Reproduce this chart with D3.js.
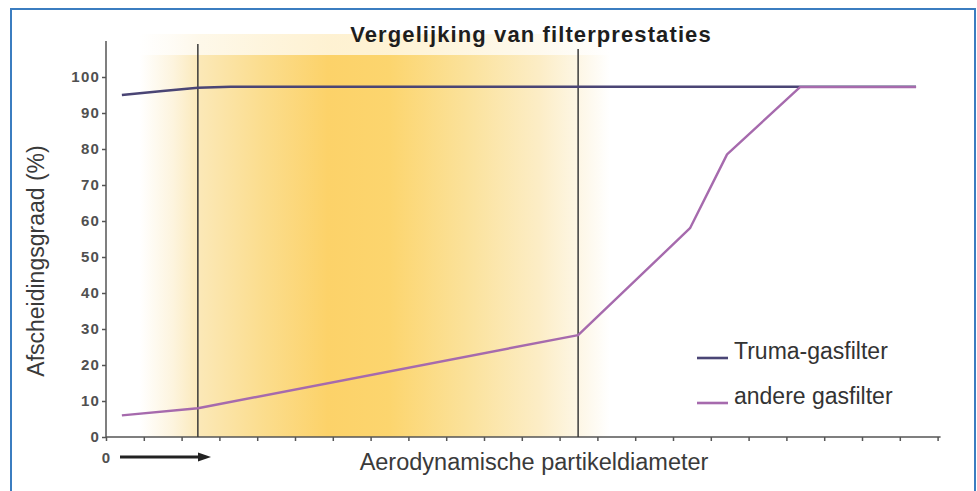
<!DOCTYPE html>
<html>
<head>
<meta charset="utf-8">
<script src="https://cdn.jsdelivr.net/npm/d3@7"></script>
<style>
  body { margin: 0; background: #fff; }
  svg { display: block; }
</style>
</head>
<body>
<div class="chartHolder"></div>
<script>
// data (x in tick units along the diameter axis)
let xTicks = d3.range(0, 23);
let yTicks = [0, 10, 20, 30, 40, 50, 60, 70, 80, 90, 100];
let seriesNames = ["Truma-gasfilter", "andere gasfilter"];
let trumaX = [0.42, 1.5, 2.43, 3.3, 21.43];
let trumaY = [95, 96.1, 97, 97.3, 97.3];
let andereX = [0.42, 2.43, 12.49, 15.45, 16.43, 18.36, 21.43];
let andereY = [6, 8, 28.3, 58, 78.5, 97.2, 97.2];
let markerX = [2.43, 12.49];

let width = 977,
  height = 491;

let svg = d3
  .select(".chartHolder")
  .append("svg")
  .attr("width", width)
  .attr("height", height);

// scales
let x = d3.scaleLinear().domain([0, 22]).range([106, 937.6]);
let y = d3.scaleLinear().domain([0, 100]).range([437, 77]);

// yellow band behind the curves
let grad = svg.append("defs").append("linearGradient")
  .attr("id", "band")
  .attr("x1", "0%").attr("x2", "100%").attr("y1", "0%").attr("y2", "0%");
[
  [0, "#ffffff"], [0.07, "#fdf4de"], [0.13, "#fbe8b6"], [0.26, "#fbdd8e"],
  [0.4, "#fcd269"], [0.53, "#fcd56e"], [0.7, "#fbe29c"], [0.85, "#fcedc6"],
  [0.93, "#fdf6e4"], [1, "#ffffff"]
].forEach((s) => grad.append("stop").attr("offset", s[0]).attr("stop-color", s[1]));

svg.append("rect")
  .attr("x", 140).attr("y", 34)
  .attr("width", 470).attr("height", 21)
  .attr("fill", "url(#band)")
  .style("opacity", 0.3);
svg.append("rect")
  .attr("x", 140).attr("y", 55)
  .attr("width", 470).attr("height", y(0) - 55)
  .attr("fill", "url(#band)");

// frame
svg.append("rect")
  .attr("x", 11).attr("y", 9)
  .attr("width", 964).attr("height", 500)
  .attr("fill", "none")
  .attr("stroke", "#3b7dc0")
  .attr("stroke-width", 2);

// title
svg.append("text")
  .attr("x", 531).attr("y", 42)
  .attr("text-anchor", "middle")
  .style("font-family", "Liberation Sans, Arial, sans-serif")
  .style("font-weight", "bold")
  .style("font-size", "22px")
  .style("letter-spacing", "1.1px")
  .style("fill", "#1e1e1e")
  .text("Vergelijking van filterprestaties");

// y axis
let yAxis = d3.axisLeft(y).tickValues(yTicks).tickSize(4).tickSizeOuter(0);
let yG = svg.append("g").attr("transform", "translate(" + x(0) + ",0)").call(yAxis);
yG.select(".domain").remove();
yG.append("line")
  .attr("y1", y(0)).attr("y2", 41)
  .attr("stroke", "#555").attr("stroke-width", 1.5);
yG.selectAll(".tick line").attr("stroke", "#555").attr("stroke-width", 1.5);
yG.selectAll(".tick text")
  .attr("x", -6)
  .style("font-family", "Liberation Sans, Arial, sans-serif")
  .style("font-weight", "bold")
  .style("font-size", "15px")
  .style("letter-spacing", "1.2px")
  .style("fill", "#505050");

// x axis (ticks only)
let xAxis = d3.axisBottom(x).tickValues(xTicks).tickSize(4).tickSizeOuter(0).tickFormat("");
let xG = svg.append("g").attr("transform", "translate(0," + y(0) + ")").call(xAxis);
xG.select(".domain").attr("stroke", "#555").attr("stroke-width", 1.5)
  .attr("d", "M" + x(0) + ",0H" + (x(22) + 3));
xG.selectAll(".tick line").attr("stroke", "#555").attr("stroke-width", 1.5);

// vertical marker lines
svg.selectAll(".marker")
  .data(markerX)
  .enter()
  .append("line")
  .attr("class", "marker")
  .attr("x1", (d) => x(d)).attr("x2", (d) => x(d))
  .attr("y1", (d, i) => (i === 0 ? 44 : 49))
  .attr("y2", y(0))
  .attr("stroke", "#3a3a3a")
  .attr("stroke-width", 1.5);

// curves
let line = d3.line().x((d) => x(d[0])).y((d) => y(d[1]));
let truma = trumaX.map((d, i) => [d, trumaY[i]]);
let andere = andereX.map((d, i) => [d, andereY[i]]);
let colors = ["#4a4575", "#a66aad"];

svg.append("path")
  .datum(truma)
  .attr("d", line)
  .attr("fill", "none")
  .attr("stroke", colors[0])
  .attr("stroke-width", 2.6);
svg.append("path")
  .datum(andere)
  .attr("d", line)
  .attr("fill", "none")
  .attr("stroke", colors[1])
  .attr("stroke-width", 2.4)
  .attr("stroke-linejoin", "round");

// axis titles
svg.append("text")
  .attr("transform", "translate(44,261) rotate(-90)")
  .attr("text-anchor", "middle")
  .style("font-family", "Liberation Sans, Arial, sans-serif")
  .style("font-size", "23px")
  .style("fill", "#3a3a3a")
  .text("Afscheidingsgraad (%)");

svg.append("text")
  .attr("x", 534).attr("y", 470)
  .attr("text-anchor", "middle")
  .style("font-family", "Liberation Sans, Arial, sans-serif")
  .style("font-size", "23.5px")
  .style("fill", "#3a3a3a")
  .text("Aerodynamische partikeldiameter");

// "0" with arrow under the axis
svg.append("text")
  .attr("x", x(0)).attr("y", 462.5)
  .attr("text-anchor", "middle")
  .style("font-family", "Liberation Sans, Arial, sans-serif")
  .style("font-weight", "bold")
  .style("font-size", "15px")
  .style("fill", "#505050")
  .text("0");
svg.append("line")
  .attr("x1", 120).attr("x2", 200)
  .attr("y1", 457).attr("y2", 457)
  .attr("stroke", "#222").attr("stroke-width", 3);
svg.append("path")
  .attr("d", "M198,452.5L211,457L198,461.5Z")
  .attr("fill", "#222");

// legend
let legend = svg.selectAll(".legend")
  .data(seriesNames)
  .enter()
  .append("g")
  .attr("class", "legend")
  .attr("transform", (d, i) => "translate(697," + (358 + i * 45) + ")");
legend.append("line")
  .attr("x1", 0).attr("x2", 31)
  .attr("stroke", (d, i) => colors[i])
  .attr("stroke-width", 2.6);
legend.append("text")
  .attr("x", 37).attr("y", 1)
  .style("font-family", "Liberation Sans, Arial, sans-serif")
  .style("font-size", "23px")
  .style("fill", "#333")
  .text((d) => d);
</script>
</body>
</html>
